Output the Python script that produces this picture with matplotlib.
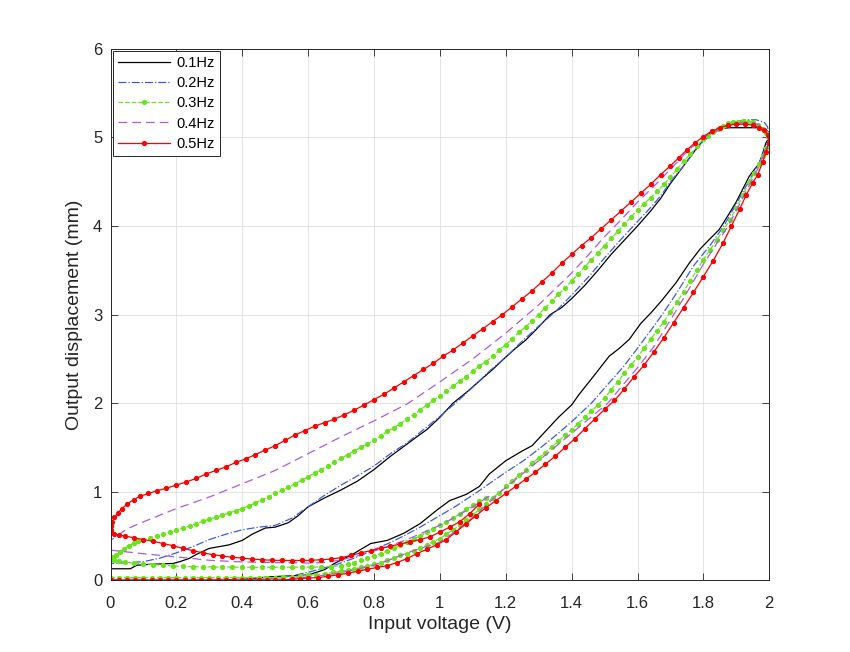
import matplotlib
matplotlib.use("Agg")
import matplotlib.pyplot as plt

plt.rcParams['font.family'] = ['Liberation Sans', 'DejaVu Sans']

# ---------------- data ----------------
labels = ['0.1Hz', '0.2Hz', '0.3Hz', '0.4Hz', '0.5Hz']

# 0.1 Hz : ascending branch then descending branch
x_01 = [0.0, 0.1, 0.2, 0.3, 0.4, 0.486, 0.55, 0.6, 0.65, 0.68, 0.738, 0.79, 0.84, 0.89, 0.94, 0.99,
        1.03, 1.08, 1.12, 1.15, 1.2, 1.25, 1.28, 1.32, 1.36, 1.4, 1.423, 1.47, 1.514, 1.545, 1.575,
        1.61, 1.641, 1.676, 1.717, 1.757, 1.79, 1.808, 1.848, 1.875, 1.898, 1.92, 1.939, 1.955,
        1.969, 1.98, 1.99, 2.0,
        1.995, 1.98, 1.93, 1.88, 1.85, 1.82, 1.8, 1.78, 1.75, 1.72, 1.7, 1.67, 1.64, 1.6, 1.56,
        1.52, 1.48, 1.44, 1.4, 1.37, 1.335, 1.3, 1.26, 1.23, 1.2, 1.16, 1.12, 1.08, 1.04, 1.0,
        0.96, 0.93, 0.89, 0.85, 0.8, 0.75, 0.7, 0.65, 0.6, 0.57, 0.54, 0.5, 0.47, 0.43, 0.4,
        0.36, 0.33, 0.3, 0.288, 0.26, 0.238, 0.21, 0.19, 0.12, 0.08, 0.06, 0.0]
y_01 = [0.0, 0.0, 0.0, 0.0, 0.01, 0.04, 0.05, 0.06, 0.12, 0.19, 0.30, 0.415, 0.45, 0.53, 0.64, 0.79,
        0.90, 0.97, 1.06, 1.2, 1.35, 1.46, 1.52, 1.68, 1.84, 1.98, 2.10, 2.32, 2.53, 2.62, 2.72,
        2.90, 3.02, 3.17, 3.36, 3.58, 3.74, 3.81, 3.96, 4.12, 4.26, 4.42, 4.56, 4.64,
        4.70, 4.82, 4.94, 5.0,
        5.07, 5.11, 5.11, 5.11, 5.10, 5.05, 4.97, 4.88, 4.73, 4.58, 4.48, 4.31, 4.17, 4.0, 3.84,
        3.68, 3.50, 3.33, 3.18, 3.08, 3.0, 2.86, 2.71, 2.62, 2.52, 2.38, 2.25, 2.12, 2.0, 1.84,
        1.70, 1.62, 1.51, 1.40, 1.25, 1.12, 1.02, 0.93, 0.83, 0.73, 0.65, 0.60, 0.59, 0.52, 0.45,
        0.40, 0.38, 0.36, 0.34, 0.29, 0.245, 0.21, 0.19, 0.18, 0.17, 0.13, 0.13]

# 0.2 Hz
x_02 = [0.0, 0.1, 0.2, 0.3, 0.45, 0.5, 0.55, 0.6, 0.64, 0.688, 0.74, 0.79, 0.84, 0.89, 0.94, 1.0,
        1.05, 1.115, 1.2, 1.25, 1.3, 1.35, 1.4, 1.46, 1.5, 1.557, 1.6, 1.64, 1.675, 1.72, 1.77,
        1.82, 1.862, 1.9, 1.94, 1.97, 1.99, 2.0,
        1.995, 1.985, 1.96, 1.93, 1.9, 1.87, 1.848, 1.8, 1.77, 1.747, 1.7, 1.676, 1.65, 1.6, 1.55,
        1.5, 1.45, 1.4, 1.35, 1.3, 1.25, 1.2, 1.15, 1.1, 1.05, 1.0, 0.95, 0.9, 0.85, 0.8, 0.75,
        0.7, 0.65, 0.6, 0.55, 0.5, 0.45, 0.4, 0.35, 0.3, 0.25, 0.2, 0.15, 0.1, 0.06, 0.0]
y_02 = [0.0, 0.0, 0.0, 0.0, 0.01, 0.02, 0.05, 0.09, 0.13, 0.18, 0.25, 0.33, 0.41, 0.50, 0.60, 0.73,
        0.84, 1.0, 1.22, 1.34, 1.48, 1.63, 1.79, 2.0, 2.17, 2.41, 2.62, 2.82, 3.0, 3.25, 3.55,
        3.78, 4.0, 4.25, 4.52, 4.72, 4.9, 5.0,
        5.12, 5.17, 5.2, 5.2, 5.18, 5.14, 5.09, 4.96, 4.83, 4.71, 4.50, 4.37, 4.25, 4.05, 3.85,
        3.64, 3.42, 3.22, 3.03, 2.87, 2.70, 2.52, 2.36, 2.18, 2.01, 1.85, 1.70, 1.55, 1.43, 1.29, 1.18,
        1.075, 0.96, 0.83, 0.70, 0.62, 0.60, 0.57, 0.52, 0.46, 0.38, 0.31, 0.25, 0.21, 0.20, 0.19]

# 0.3 Hz : first ascending, descending, second ascending (partial)
x_03 = [0.0, 0.025, 0.05, 0.075, 0.1, 0.125, 0.15, 0.175, 0.2, 0.225, 0.25, 0.275, 0.3, 0.325, 0.35,
        0.375, 0.4, 0.425, 0.45, 0.475, 0.5, 0.525, 0.55, 0.575, 0.6, 0.625, 0.65, 0.675, 0.7, 0.72,
        0.74, 0.76, 0.78, 0.8, 0.82, 0.84, 0.86, 0.88, 0.9, 0.92, 0.94, 0.96, 0.98, 1.0, 1.02, 1.04,
        1.06, 1.08, 1.1, 1.12, 1.14, 1.16, 1.18, 1.2, 1.22, 1.24, 1.26, 1.28, 1.3, 1.32, 1.34, 1.36,
        1.38, 1.4, 1.42, 1.44, 1.46, 1.48, 1.5, 1.52, 1.54, 1.56, 1.58, 1.6, 1.62, 1.64, 1.66, 1.68,
        1.7, 1.72, 1.74, 1.76, 1.78, 1.8, 1.82, 1.84, 1.86, 1.88, 1.9, 1.92, 1.94, 1.955, 1.97, 1.98,
        1.99, 2.0,
        1.995, 1.99, 1.98, 1.965, 1.95, 1.935, 1.92, 1.905, 1.89, 1.875, 1.86, 1.845, 1.83, 1.815,
        1.8, 1.78, 1.76, 1.74, 1.72, 1.7, 1.68, 1.66, 1.64, 1.62, 1.6, 1.58, 1.56, 1.54, 1.52, 1.5,
        1.48, 1.46, 1.44, 1.42, 1.4, 1.38, 1.36, 1.34, 1.32, 1.3, 1.28, 1.26, 1.24, 1.22, 1.2, 1.18,
        1.16, 1.14, 1.12, 1.1, 1.08, 1.06, 1.04, 1.02, 1.0, 0.98, 0.96, 0.94, 0.92, 0.9, 0.88, 0.86,
        0.84, 0.82, 0.8, 0.78, 0.76, 0.74, 0.72, 0.7, 0.68, 0.66, 0.64, 0.62, 0.6, 0.58, 0.56, 0.54,
        0.52, 0.5, 0.48, 0.46, 0.44, 0.42, 0.4, 0.38, 0.36, 0.34, 0.32, 0.3, 0.28, 0.26, 0.24, 0.22,
        0.2, 0.18, 0.16, 0.14, 0.12, 0.1, 0.085, 0.07, 0.055, 0.04, 0.028, 0.017, 0.008, 0.0,
        0.01, 0.025, 0.045, 0.07, 0.1, 0.13, 0.16, 0.19, 0.22, 0.25, 0.28, 0.31, 0.34, 0.37, 0.4,
        0.43, 0.46, 0.49, 0.52, 0.55, 0.58, 0.61, 0.64, 0.67, 0.7, 0.72, 0.74, 0.76, 0.78, 0.8, 0.82,
        0.84, 0.86, 0.88, 0.9, 0.92, 0.94, 0.96, 0.98, 1.0, 1.02, 1.04, 1.06, 1.08, 1.1, 1.12, 1.14]
y_03 = [0.03, 0.03, 0.03, 0.03, 0.03, 0.03, 0.03, 0.03, 0.03, 0.03, 0.03, 0.03, 0.03, 0.03, 0.03,
        0.03, 0.03, 0.03, 0.03, 0.03, 0.03, 0.035, 0.04, 0.045, 0.055, 0.065, 0.075, 0.09, 0.10, 0.115,
        0.13, 0.145, 0.16, 0.18, 0.20, 0.226, 0.25, 0.28, 0.30, 0.33, 0.36, 0.40, 0.435, 0.47, 0.52, 0.57,
        0.62, 0.68, 0.74, 0.80, 0.86, 0.93, 0.99, 1.06, 1.12, 1.19, 1.25, 1.32, 1.38, 1.44, 1.51, 1.57,
        1.64, 1.70, 1.77, 1.84, 1.91, 1.98, 2.06, 2.15, 2.24, 2.34, 2.43, 2.52, 2.62, 2.72, 2.82, 2.92,
        3.03, 3.14, 3.26, 3.38, 3.50, 3.62, 3.73, 3.84, 3.95, 4.07, 4.20, 4.35, 4.50, 4.60, 4.70, 4.79,
        4.88, 4.94,
        5.01, 5.05, 5.10, 5.14, 5.17, 5.18, 5.185, 5.18, 5.175, 5.16, 5.13, 5.10, 5.06, 5.02,
        4.98, 4.90, 4.81, 4.73, 4.64, 4.55, 4.47, 4.39, 4.32, 4.25, 4.18, 4.10, 4.02, 3.94, 3.86, 3.78,
        3.70, 3.62, 3.54, 3.46, 3.38, 3.30, 3.23, 3.15, 3.08, 3.00, 2.93, 2.86, 2.80, 2.73, 2.66, 2.60,
        2.53, 2.47, 2.42, 2.36, 2.30, 2.25, 2.19, 2.14, 2.08, 2.03, 1.98, 1.92, 1.87, 1.82, 1.77, 1.72,
        1.68, 1.63, 1.58, 1.54, 1.50, 1.46, 1.42, 1.376, 1.335, 1.29, 1.25, 1.21, 1.17, 1.13, 1.09, 1.05,
        1.015, 0.98, 0.945, 0.91, 0.875, 0.84, 0.81, 0.785, 0.76, 0.735, 0.71, 0.69, 0.665, 0.64, 0.615, 0.59,
        0.566, 0.545, 0.52, 0.50, 0.48, 0.46, 0.44, 0.42, 0.39, 0.355, 0.32, 0.29, 0.265, 0.245,
        0.23, 0.215, 0.205, 0.195, 0.186, 0.177, 0.168, 0.16, 0.156, 0.153, 0.151, 0.15, 0.149, 0.148, 0.148,
        0.147, 0.147, 0.147, 0.147, 0.147, 0.148, 0.149, 0.151, 0.155, 0.165, 0.18, 0.20, 0.225, 0.25, 0.275, 0.30,
        0.33, 0.36, 0.395, 0.43, 0.465, 0.50, 0.54, 0.58, 0.62, 0.66, 0.70, 0.75, 0.80, 0.85, 0.89, 0.93]

# 0.4 Hz
x_04 = [0.0, 0.1, 0.2, 0.3, 0.4, 0.5, 0.53, 0.58, 0.627, 0.68, 0.73, 0.8, 0.845, 0.9, 0.95, 1.0,
        1.05, 1.1, 1.185, 1.25, 1.3, 1.4, 1.51, 1.55, 1.6, 1.65, 1.71, 1.75, 1.8, 1.875, 1.91,
        1.945, 1.97, 1.99, 2.0,
        1.99, 1.975, 1.95, 1.92, 1.9, 1.87, 1.848, 1.8, 1.75, 1.7, 1.65, 1.6, 1.55, 1.5, 1.45, 1.4,
        1.35, 1.3, 1.25, 1.2, 1.1, 1.0, 0.9, 0.8, 0.7, 0.6, 0.5, 0.4, 0.3, 0.2, 0.1, 0.05, 0.02, 0.0,
        0.0, 0.05, 0.1, 0.2, 0.3, 0.4, 0.5, 0.6, 0.65, 0.7, 0.738, 0.8, 0.84, 0.9, 0.95, 1.0, 1.05,
        1.1, 1.15]
y_04 = [0.01, 0.01, 0.01, 0.01, 0.01, 0.01, 0.015, 0.03, 0.045, 0.075, 0.11, 0.17, 0.226, 0.31, 0.37, 0.43,
        0.56, 0.71, 1.0, 1.2, 1.35, 1.66, 2.0, 2.18, 2.4, 2.64, 3.0, 3.25, 3.57, 4.0, 4.25,
        4.5, 4.68, 4.87, 4.95,
        5.06, 5.13, 5.17, 5.17, 5.16, 5.13, 5.09, 5.0, 4.84, 4.64, 4.45, 4.27, 4.07, 3.88, 3.67, 3.47,
        3.29, 3.11, 2.95, 2.79, 2.50, 2.24, 1.99, 1.80, 1.62, 1.43, 1.24, 1.09, 0.94, 0.81, 0.66, 0.58, 0.50, 0.45,
        0.34, 0.32, 0.30, 0.264, 0.226, 0.207, 0.20, 0.195, 0.20, 0.23, 0.264, 0.33, 0.377, 0.46, 0.54, 0.62, 0.72,
        0.83, 0.95]

# 0.5 Hz : first ascending, descending, second ascending (partial)
x_05 = [0.0, 0.025, 0.05, 0.075, 0.1, 0.125, 0.15, 0.175, 0.2, 0.225, 0.25, 0.275, 0.3, 0.325, 0.35,
        0.375, 0.4, 0.425, 0.45, 0.475, 0.5, 0.525, 0.55, 0.575, 0.6, 0.63, 0.66, 0.69, 0.72, 0.75,
        0.78, 0.81, 0.84, 0.87, 0.9, 0.93, 0.96, 0.99, 1.02, 1.05, 1.08, 1.11, 1.14, 1.17, 1.2, 1.23,
        1.26, 1.29, 1.32, 1.35, 1.38, 1.41, 1.44, 1.47, 1.5, 1.53, 1.56, 1.59, 1.62, 1.65, 1.68, 1.71,
        1.74, 1.77, 1.8, 1.83, 1.86, 1.885, 1.91, 1.93, 1.95, 1.965, 1.98, 1.99, 2.0,
        1.995, 1.985, 1.97, 1.95, 1.925, 1.9, 1.875, 1.85, 1.825, 1.8, 1.775, 1.75, 1.725, 1.7, 1.67,
        1.64, 1.61, 1.58, 1.55, 1.52, 1.49, 1.46, 1.43, 1.4, 1.37, 1.34, 1.31, 1.28, 1.25, 1.22, 1.19,
        1.16, 1.13, 1.1, 1.07, 1.04, 1.01, 0.98, 0.95, 0.92, 0.89, 0.86, 0.83, 0.8, 0.77, 0.74, 0.71,
        0.68, 0.65, 0.62, 0.59, 0.56, 0.53, 0.5, 0.47, 0.44, 0.41, 0.38, 0.35, 0.32, 0.29, 0.26, 0.23,
        0.2, 0.17, 0.14, 0.115, 0.09, 0.07, 0.05, 0.035, 0.022, 0.012, 0.005, 0.001, 0.0,
        0.002, 0.01, 0.025, 0.045, 0.07, 0.1, 0.13, 0.16, 0.19, 0.22, 0.25, 0.28, 0.31, 0.34, 0.37,
        0.4, 0.43, 0.46, 0.49, 0.52, 0.55, 0.58, 0.61, 0.64, 0.67, 0.7, 0.73, 0.76, 0.79, 0.82, 0.85,
        0.88, 0.91, 0.94, 0.97, 1.0, 1.03, 1.06, 1.09, 1.12]
y_05 = [0.0, 0.0, 0.0, 0.0, 0.0, 0.0, 0.0, 0.0, 0.0, 0.0, 0.0, 0.0, 0.0, 0.0, 0.0,
        0.0, 0.0, 0.0, 0.0, 0.0, 0.0, 0.005, 0.01, 0.02, 0.025, 0.03, 0.045, 0.06, 0.08, 0.10,
        0.125, 0.145, 0.165, 0.20, 0.245, 0.30, 0.35, 0.40, 0.46, 0.55, 0.64, 0.73, 0.82, 0.90, 0.98, 1.06,
        1.14, 1.22, 1.31, 1.40, 1.50, 1.60, 1.71, 1.82, 1.93, 2.03, 2.16, 2.30, 2.43, 2.58, 2.74, 2.91,
        3.08, 3.25, 3.43, 3.61, 3.81, 4.0, 4.19, 4.35, 4.49, 4.58, 4.72, 4.84, 4.94,
        5.03, 5.08, 5.11, 5.14, 5.15, 5.15, 5.14, 5.11, 5.07, 5.01, 4.94, 4.86, 4.77, 4.68, 4.58,
        4.47, 4.37, 4.27, 4.17, 4.07, 3.97, 3.87, 3.78, 3.68, 3.58, 3.47, 3.37, 3.27, 3.18, 3.09, 3.00,
        2.92, 2.84, 2.76, 2.68, 2.60, 2.53, 2.45, 2.38, 2.31, 2.24, 2.17, 2.10, 2.04, 1.98, 1.92, 1.87,
        1.82, 1.78, 1.74, 1.69, 1.64, 1.58, 1.52, 1.47, 1.42, 1.37, 1.33, 1.28, 1.24, 1.20, 1.15, 1.11,
        1.075, 1.04, 1.01, 0.98, 0.95, 0.91, 0.86, 0.81, 0.76, 0.71, 0.66, 0.61, 0.57,
        0.54, 0.52, 0.51, 0.50, 0.48, 0.46, 0.44, 0.415, 0.39, 0.36, 0.335, 0.31, 0.29, 0.275, 0.26,
        0.25, 0.24, 0.232, 0.226, 0.224, 0.223, 0.224, 0.226, 0.232, 0.24, 0.255, 0.28, 0.31, 0.335, 0.36, 0.385,
        0.41, 0.435, 0.46, 0.49, 0.545, 0.60, 0.66, 0.75, 0.86]

x_ticks = [0, 0.2, 0.4, 0.6, 0.8, 1.0, 1.2, 1.4, 1.6, 1.8, 2.0]
x_ticklabels = ['0', '0.2', '0.4', '0.6', '0.8', '1', '1.2', '1.4', '1.6', '1.8', '2']
y_ticks = [0, 1, 2, 3, 4, 5, 6]

# ---------------- figure ----------------
fig = plt.figure(figsize=(8.5, 6.52), dpi=100)
ax = fig.add_axes([0.13, 0.11, 0.775, 0.815])

axc = '#262626'
ax.plot(x_01, y_01, color='black', lw=0.9, ls='-', label=labels[0])
ax.plot(x_02, y_02, color='#3a5ce6', lw=0.9, ls='-.', label=labels[1])
ax.plot(x_03, y_03, color='#6be31c', lw=0.9, ls='--', marker='.', ms=5.5, label=labels[2])
ax.plot(x_04, y_04, color='#ad5ae6', lw=0.9, ls='--', dashes=(7, 4), label=labels[3])
ax.plot(x_05, y_05, color='#ff0000', lw=0.9, ls='-', marker='.', ms=5.5, label=labels[4])

ax.set_xlim(0, 2)
ax.set_ylim(0, 6)
ax.set_xticks(x_ticks)
ax.set_xticklabels(x_ticklabels)
ax.set_yticks(y_ticks)
ax.grid(True, color='#dedede', lw=0.6)
ax.set_axisbelow(True)
ax.tick_params(direction='in', top=True, right=True, length=4.7, width=0.6,
               labelsize=12, colors=axc)
ax.tick_params(axis='x', pad=11)
ax.tick_params(axis='y', pad=6)
for s in ax.spines.values():
    s.set_color(axc)
    s.set_linewidth(0.7)

ax.set_xlabel('Input voltage (V)', fontsize=14, color=axc, labelpad=4)
ax.set_ylabel('Output displacement (mm)', fontsize=14, color=axc, labelpad=7)

leg = ax.legend(loc='upper left', fontsize=10.5, handlelength=3.6, handletextpad=0.4,
                labelspacing=0.42, borderpad=0.35, borderaxespad=0.15, fancybox=False,
                framealpha=1, edgecolor=axc)
leg.get_frame().set_linewidth(0.7)

fig.savefig('out.png', dpi=100)
